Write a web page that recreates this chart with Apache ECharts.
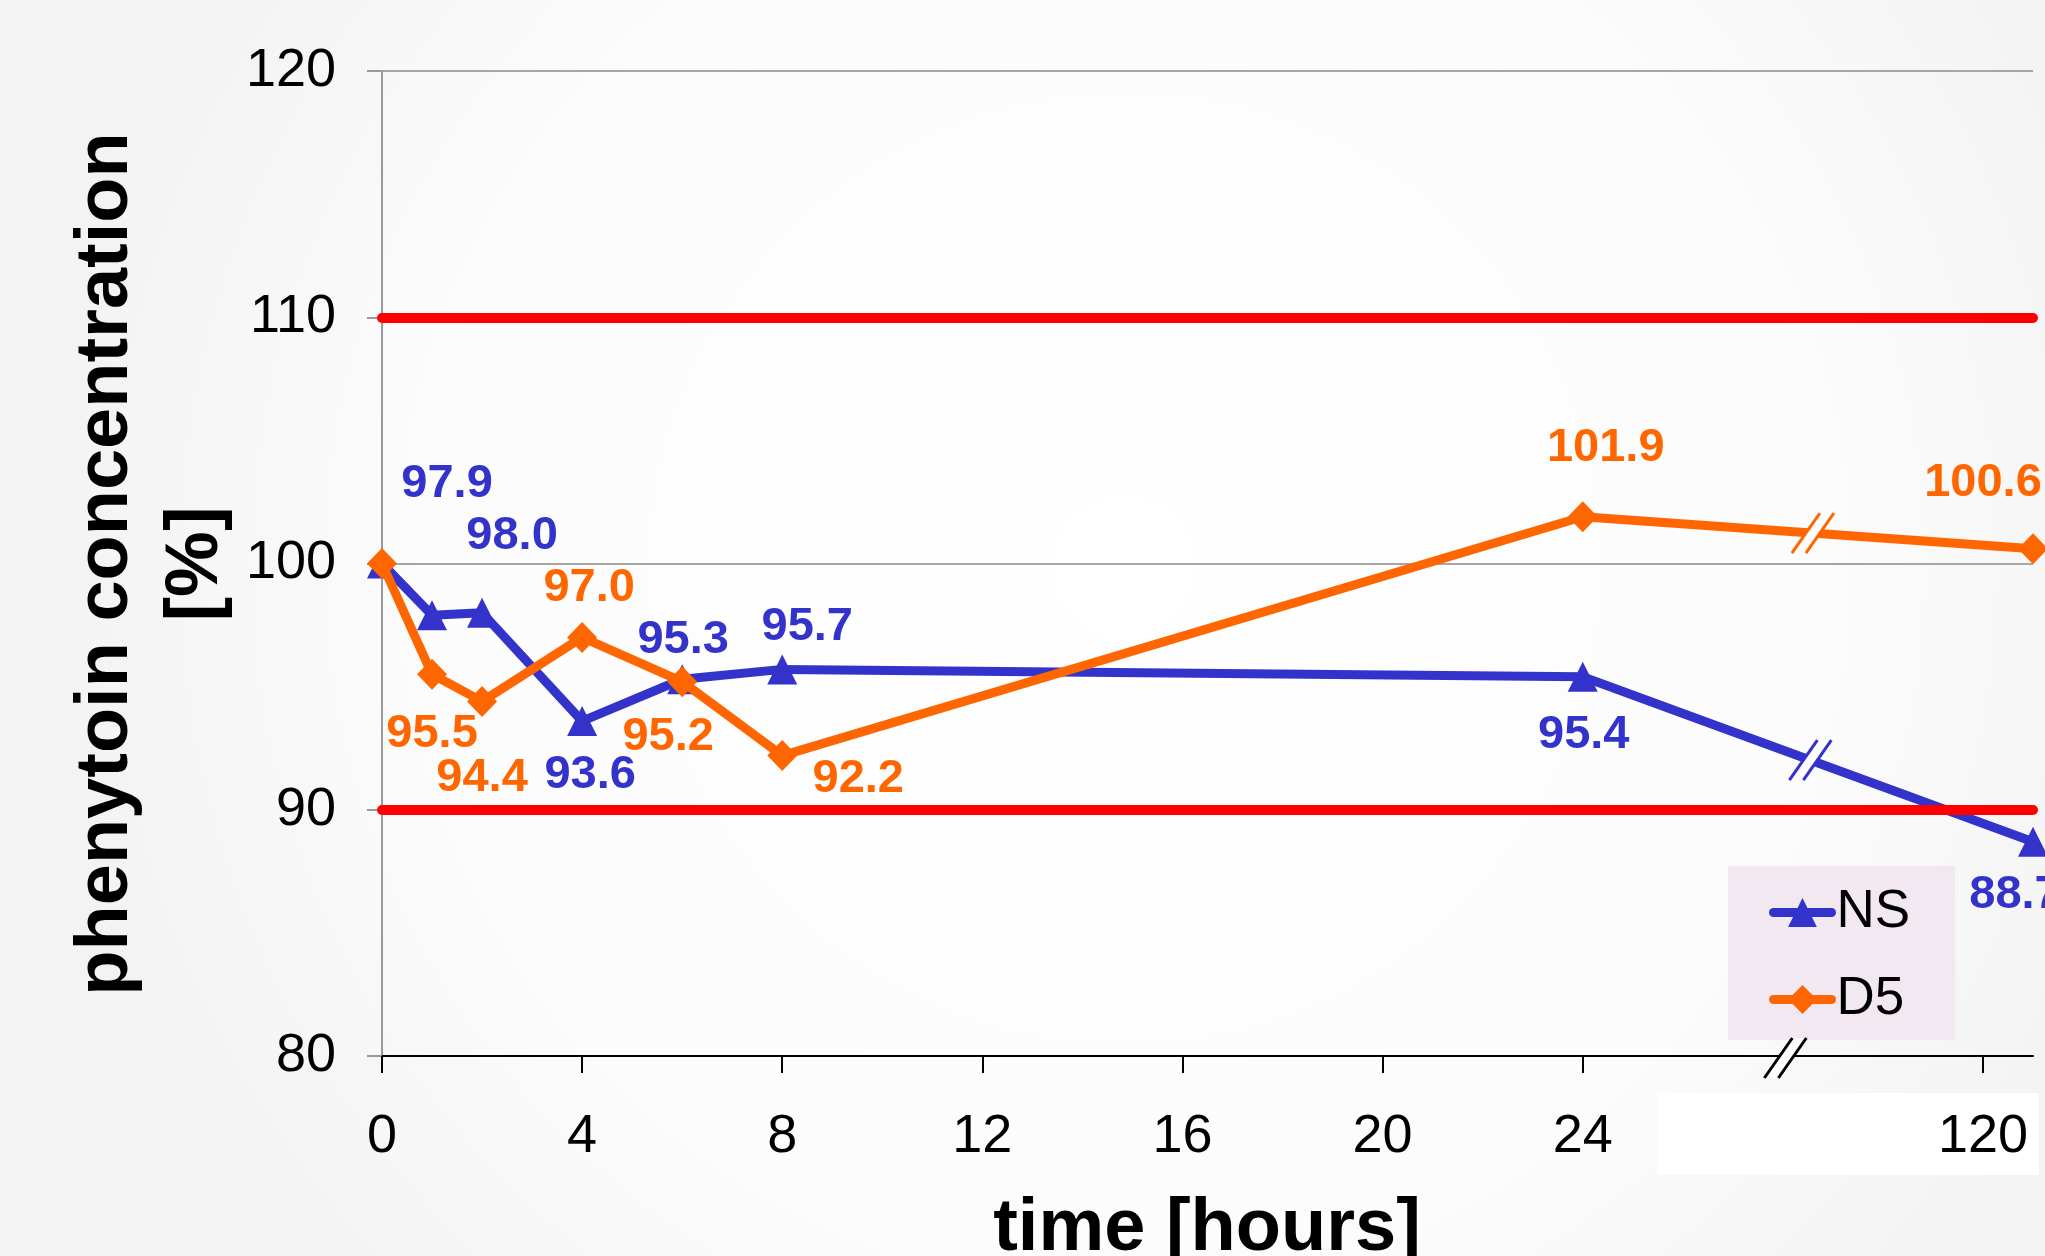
<!DOCTYPE html>
<html>
<head>
<meta charset="utf-8">
<script src="https://cdn.jsdelivr.net/npm/echarts@6/dist/echarts.min.js"></script>
<style>
  html, body { margin: 0; padding: 0; background: #fff; }
  #chart { width: 2045px; height: 1256px; }
</style>
</head>
<body>
<div id="chart"></div>
<script>
// ---------------- data ----------------
const timesHours = [0, 1, 2, 4, 6, 8, 24, 120];
const nsValues   = [100, 97.9, 98.0, 93.6, 95.3, 95.7, 95.4, 88.7];
const d5Values   = [100, 95.5, 94.4, 97.0, 95.2, 92.2, 101.9, 100.6];
const seriesNames = ['NS', 'D5'];
const yTicks = [80, 90, 100, 110, 120];
const limitLines = [110, 90];
// broken x axis: 0..24 h linear, then a break, 120 h drawn after it
const xTickValues = [0, 4, 8, 12, 16, 20, 24, 32];
const xTickLabels = ['0', '4', '8', '12', '16', '20', '24', '120'];

// ---------------- layout / style (kept apart from the data) ----------------
const AXIS_POS_120 = 33;           // axis position of the 120 h point after the break
function axisPos(t) { return t <= 24 ? t : AXIS_POS_120; }
const nsLabelOffsets = [null, [15, -131], [30, -77], [8, 54], [1, -39], [25, -42], [1, 58], [-18, 53]];
const d5LabelOffsets = [null, [0, 60], [0, 77], [7, -49], [-14, 55], [76, 23], [23, -69], [-50, -66]];
const BLUE = '#3333cc', ORANGE = '#ff6600', RED = '#ff0000';
const FONT = '"Liberation Sans", Arial, Helvetica, sans-serif';

function buildData(values, offsets) {
  return values.map((v, i) => ({
    value: [axisPos(timesHours[i]), v],
    label: offsets[i] ? { show: true, offset: offsets[i] } : { show: false }
  }));
}

const chart = echarts.init(document.getElementById('chart'), null, { width: 2045, height: 1256 });

const labelBase = (color) => ({
  show: true,
  position: 'inside',
  color: color,
  fontFamily: FONT,
  fontWeight: 'bold',
  fontSize: 47,
  align: 'center',
  verticalAlign: 'middle',
  formatter: p => p.value[1].toFixed(1)
});

chart.setOption({
  backgroundColor: {
    type: 'radial', x: 0.55, y: 0.45, r: 0.85,
    colorStops: [{ offset: 0, color: '#ffffff' }, { offset: 0.65, color: '#fcfcfc' }, { offset: 1, color: '#f3f3f3' }]
  },
  animation: false,
  grid: { left: 382, top: 71, right: 12, bottom: 200, containLabel: false },
  legend: {
    data: seriesNames,
    orient: 'vertical',
    left: 1728, top: 866,
    padding: [20, 45, 14, 41],
    itemGap: 34,
    itemWidth: 58,
    itemHeight: 36,
    backgroundColor: '#f2e8f2',
    lineStyle: { width: 9, cap: 'round' },
    textStyle: { fontFamily: FONT, fontSize: 53, color: '#000', lineHeight: 53 }
  },
  xAxis: {
    type: 'value',
    min: 0, max: AXIS_POS_120, interval: 4,
    axisLine: { show: true, lineStyle: { color: '#000', width: 2 } },
    axisTick: { show: true, inside: false, length: 17, customValues: xTickValues, lineStyle: { color: '#000', width: 2 } },
    axisLabel: {
      customValues: xTickValues,
      margin: 54,
      fontFamily: FONT, fontSize: 54, color: '#000',
      formatter: v => { const i = xTickValues.indexOf(v); return i >= 0 ? xTickLabels[i] : ''; }
    },
    splitLine: { show: false }
  },
  yAxis: {
    type: 'value',
    min: yTicks[0], max: yTicks[yTicks.length - 1], interval: 10,
    axisLine: { show: true, lineStyle: { color: '#9a9a9a', width: 2 } },
    axisTick: { show: true, inside: false, length: 15, lineStyle: { color: '#9a9a9a', width: 2 } },
    axisLabel: { margin: 46, fontFamily: FONT, fontSize: 54, color: '#000' },
    splitLine: { show: true, lineStyle: { color: '#a6a6a6', width: 2 } }
  },
  series: [
    {
      name: seriesNames[0],
      type: 'line',
      data: buildData(nsValues, nsLabelOffsets),
      symbol: 'triangle',
      symbolSize: 30,
      clip: false,
      color: BLUE,
      lineStyle: { color: BLUE, width: 9 },
      itemStyle: { color: BLUE },
      label: labelBase(BLUE),
      z: 3
    },
    {
      name: seriesNames[1],
      type: 'line',
      data: buildData(d5Values, d5LabelOffsets),
      symbol: 'diamond',
      symbolSize: [30, 31],
      clip: false,
      color: ORANGE,
      lineStyle: { color: ORANGE, width: 9 },
      itemStyle: { color: ORANGE },
      label: labelBase(ORANGE),
      z: 4,
      markLine: {
        silent: true,
        symbol: ['none', 'none'],
        label: { show: false },
        lineStyle: { color: RED, width: 10, type: 'solid', cap: 'round' },
        data: limitLines.map(v => ({ yAxis: v })),
        z: 6
      }
    }
  ]
});

// ---------------- break marks, covering box and axis titles ----------------
function breakMark(cx, cy, color, fill) {
  const hx = 14, hy = 20, off = 7;
  return [
    { type: 'polygon', z: 100,
      shape: { points: [[cx - off - hx, cy + hy], [cx - off + hx, cy - hy], [cx + off + hx, cy - hy], [cx + off - hx, cy + hy]] },
      style: { fill: fill } },
    { type: 'line', z: 101, shape: { x1: cx - off - hx, y1: cy + hy, x2: cx - off + hx, y2: cy - hy }, style: { stroke: color, lineWidth: 3 } },
    { type: 'line', z: 101, shape: { x1: cx + off - hx, y1: cy + hy, x2: cx + off + hx, y2: cy - hy }, style: { stroke: color, lineWidth: 3 } }
  ];
}
function lineBreakAt(values, pos) {
  const n = values.length;
  const x0 = axisPos(timesHours[n - 2]), x1 = axisPos(timesHours[n - 1]);
  const v = values[n - 2] + (pos - x0) / (x1 - x0) * (values[n - 1] - values[n - 2]);
  return chart.convertToPixel({ gridIndex: 0 }, [pos, v]);
}
const pNS = lineBreakAt(nsValues, 28.55);
const pD5 = lineBreakAt(d5Values, 28.6);
const pAxis = chart.convertToPixel({ gridIndex: 0 }, [28.05, yTicks[0]]);
const p24 = chart.convertToPixel({ gridIndex: 0 }, [25.5, yTicks[0]]);

const elements = [
  // white box behind the "120" tick label
  { type: 'rect', z: -1, shape: { x: p24[0], y: pAxis[1] + 37, width: 2039 - p24[0], height: 82 }, style: { fill: '#ffffff' } },
  ...breakMark(pNS[0], pNS[1], BLUE, '#fdfdfd'),
  ...breakMark(pD5[0], pD5[1], ORANGE, '#fdfdfd'),
  ...breakMark(pAxis[0], pAxis[1] + 2, '#000', '#ffffff'),
  { type: 'text', z: 10, x: 152, y: 564, rotation: Math.PI / 2,
    style: { text: 'phenytoin concentration\n[%]', fill: '#000', font: 'bold 74px ' + FONT, lineHeight: 90, align: 'center', verticalAlign: 'middle' } },
  { type: 'text', z: 10, x: 1207, y: 1230,
    style: { text: 'time [hours]', fill: '#000', font: 'bold 74px ' + FONT, align: 'center', verticalAlign: 'middle' } }
];
chart.setOption({ graphic: { elements: elements } });
</script>
</body>
</html>
